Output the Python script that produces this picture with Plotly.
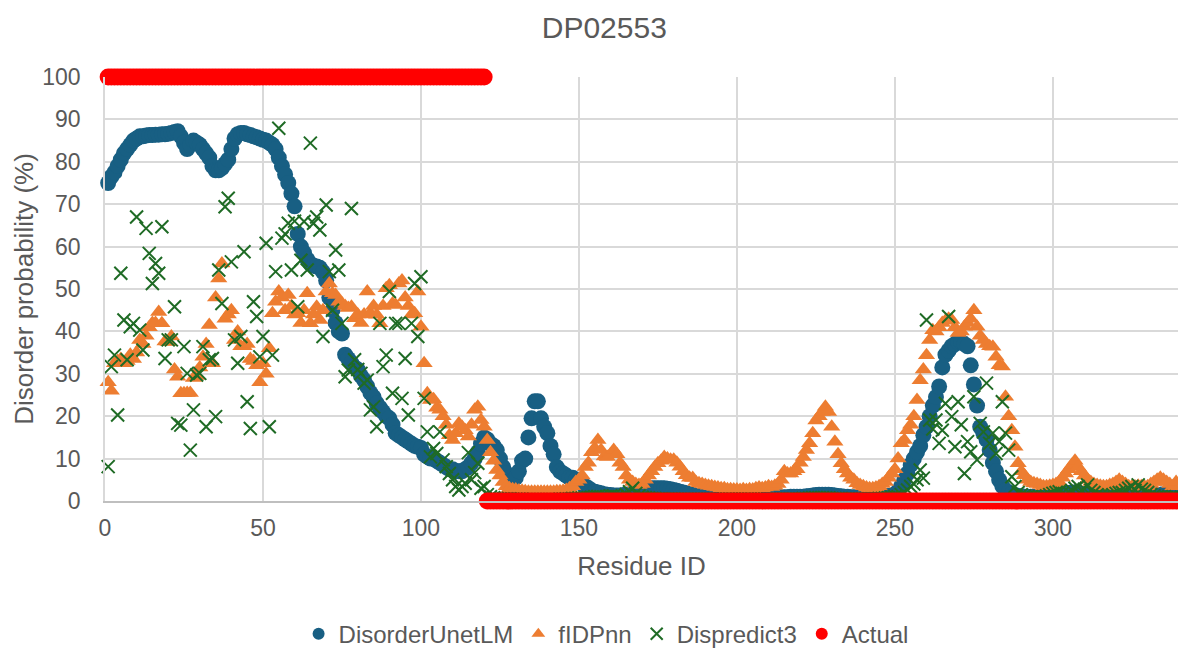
import plotly.graph_objects as go

# ---------------- data (per-residue) ----------------
disorder_unetlm = [
    75, 76.5, 77.5, 79, 80.5, 82, 83, 84, 85, 85.5,
    86, 86, 86.2, 86.3, 86.3, 86.4, 86.4, 86.5, 86.5, 86.6,
    86.8, 87, 87.2, 86, 84.5, 83, 84, 85, 84.5, 84,
    83, 82, 81, 79, 78, 78, 78.5, 79.5, 80.5, 83,
    85.5, 86.5, 86.8, 86.8, 86.5, 86.3, 86, 85.8, 85.5, 85.2,
    85, 84.5, 84, 83, 81, 79, 77, 75, 72.5, 69.5,
    63, 60, 58.5, 57, 56, 55.5, 55.3, 55, 54, 52,
    48, 45, 42, 40, 39.5, 34.5, 33.5, 32.5, 31.5, 31,
    29.5, 28.5, 27, 25.5, 24.5, 23, 22, 21, 20, 19.5,
    18, 16, 15.5, 15, 14.5, 14, 13.5, 13, 12.8, 12.5,
    11, 10.5, 10, 10, 9.5, 9, 8.5, 8, 7.5, 7.5,
    7, 7, 7, 7.5, 8, 9, 10, 11.5, 13.5, 15,
    14.5, 13.5, 13, 12, 10, 8, 6.5, 5.5, 5, 5.5,
    7, 9.5, 10, 15, 19.5, 23.5, 23.5, 19.5, 17.5, 16,
    13, 11, 8, 7, 6.5, 6, 5.5, 5.5, 5, 4.5,
    4, 3.5, 3, 2.5, 2.2, 2, 1.8, 1.6, 1.5, 1.4,
    1.3, 1.3, 1.3, 1.4, 1.5, 1.6, 1.8, 2, 2.2, 2.4,
    2.6, 2.8, 3, 3, 3, 3, 3, 2.9, 2.8, 2.6,
    2.4, 2.2, 2, 1.8, 1.6, 1.4, 1.3, 1.2, 1.1, 1,
    0.9, 0.9, 0.9, 0.8, 0.8, 0.8, 0.8, 0.8, 0.8, 0.8,
    0.8, 0.8, 0.8, 0.8, 0.8, 0.8, 0.8, 0.8, 0.9, 0.9,
    0.9, 0.9, 0.9, 0.9, 0.9, 0.9, 1, 1, 1, 1,
    1, 1.1, 1.2, 1.3, 1.4, 1.5, 1.5, 1.5, 1.5, 1.4,
    1.3, 1.2, 1.1, 1, 1, 0.9, 0.9, 0.9, 0.9, 0.9,
    0.9, 0.9, 1, 1, 1, 1, 1.1, 1.2, 1.3, 1.6,
    2.3, 3.5, 5, 6.5, 8.5, 10, 11.5, 13, 15.5, 17.5,
    20, 22.5, 24.5, 27, 31.5, 34.5, 35.5, 36.5, 37, 37.5,
    37.5, 37, 36.5, 32, 27.5, 22.5, 17.5, 16, 14.5, 12,
    9, 7, 5, 3.5, 2.5, 2, 1.6, 1.4, 1.2, 1.1,
    1, 1, 1, 1, 1, 1, 1, 1, 1, 1.1,
    1.2, 1.4, 1.6, 1.8, 1.9, 2, 2, 1.9, 1.7, 1.5,
    1.3, 1.2, 1.1, 1, 1, 1, 0.9, 0.9, 0.9, 0.9,
    0.9, 0.9, 0.9, 0.9, 0.9, 1, 1, 1, 1, 1.1,
    1.2, 1.3, 1.4, 1.5, 1.6, 1.6, 1.5, 1.4, 1.3, 1.2, 1.1, 1,
]

fidpnn = [
    28, 26, 32.5, 33, 33.5, 32.5, 33, 34.5, 33.5, 35,
    38, 37, 39, 41, 42, 42, 44.6, 41.9, 37.6, 37.5,
    38.8, 31, 29.3, 25.4, 25.4, 25.5, 25.5, 29, 29.5, 31.5,
    34, 37, 41.5, 32.5, 48, 52.5, 56, 43, 44, 45,
    38, 40, 36.5, 36.5, 37, 33.5, 33, 32, 28, 32.5,
    30, 36, 44.3, 47, 49.4, 48, 45, 48.6, 46, 44,
    44.3, 42, 45, 49, 41.9, 44, 45.8, 42.7, 45, 49.4,
    51.3, 49, 48.6, 47, 46.6, 46, 45.5, 45.8, 43.1, 44,
    42, 44, 49.4, 44.3, 46, 43.9, 41.9, 46, 50.2, 50.9,
    46.6, 46.2, 51.3, 52, 48, 46, 44, 44.3, 49.4, 41.1,
    32.5, 25.4, 23.8, 24, 22, 21.5, 20, 18, 15.5, 14.4,
    16, 18.3, 17.5, 16.7, 15.2, 18, 21.5, 22.2, 19.1, 17.5,
    14.4, 11.5, 9.5, 7.3, 6, 4.5, 3.5, 3, 2.8, 2.7,
    2.5, 2.4, 2.3, 2.2, 2.2, 2.2, 2.2, 2.2, 2.2, 2.2,
    2.2, 2.2, 2.3, 2.3, 2.4, 2.6, 3, 3.5, 4.5, 5,
    6, 8, 9, 11.5, 12.5, 14.4, 12, 10.5, 10.4, 11,
    12, 11, 9, 8, 6, 5, 4.5, 4, 3.8, 4,
    5, 6, 7, 8, 8.9, 9.5, 10.4, 10, 9.7, 9.7,
    9, 8.1, 7, 6.1, 5.5, 5.4, 4.5, 4.2, 4, 3.8,
    3.6, 3.5, 3.3, 3.2, 3, 3, 2.8, 2.8, 2.7, 2.7,
    2.6, 2.8, 2.6, 2.8, 2.7, 3, 3.2, 3, 3.2, 3.5,
    3.3, 3.6, 4, 5, 7, 6.5, 6.5, 7, 7.5, 9,
    10.4, 12, 13.6, 16, 19, 20, 21, 22.2, 21, 17.5,
    14, 11, 8.9, 7.5, 6.5, 5.5, 5, 4.2, 3.8, 3.5,
    3.2, 3, 3, 3.2, 3.5, 4, 4.5, 5.5, 6.5, 7.5,
    10, 13.6, 14.4, 16.7, 18, 20, 23.8, 28.5, 31, 34.4,
    38, 40.3, 40, 41, 42, 42.5, 43, 42.7, 41, 39.6,
    40, 41.1, 42, 43, 45, 41.1, 39, 38, 37, 36.5,
    36.4, 34, 32, 31.7, 24.6, 20, 16.7, 12.8, 8.9, 7,
    6.1, 5, 4.5, 4.2, 4, 3.8, 3.5, 3.5, 3.6, 3.8,
    4, 4.5, 5.5, 6.5, 7.5, 8.5, 9.5, 8, 7, 6,
    5, 4.5, 4, 3.8, 3.6, 3.5, 3.5, 3.8, 4, 4.5,
    5, 4.5, 4, 3.5, 3.4, 3.4, 3.6, 3.5, 3.4, 3.5,
    4, 4.5, 5, 5.5, 5, 4.5, 4, 3.5, 4.5, 5.5, 6, 5,
]

dispredict3 = [
    8.1, 31.7, 34.4, 20.3, 53.7, 42.7, 33.3, 41.1, 41.9, 67,
    40.3, 35.6, 64.3, 58.4, 51.3, 56, 53.7, 64.7, 33.6, 38,
    38, 45.8, 18.3, 17.9, 36.4, 30.1, 12, 21.5, 29.7, 30.1,
    36.4, 17.5, 33.3, 33.6, 19.9, 54.5, 46.6, 69.4, 71.4, 56.4,
    38, 32.5, 38.8, 58.8, 23.4, 17.1, 47, 43.5, 34, 38.8,
    60.8, 17.5, 34.4, 54.1, 87.9, 62, 63, 65.5, 54.5, 66,
    45.8, 56.8, 65.9, 54.5, 84.4, 65.5, 67, 63.9, 38.8, 69.8,
    54.1, 45, 59.2, 54.5, 41.9, 29.3, 30.9, 69, 33.3, 31,
    30.1, 27.8, 28.5, 21.5, 22.2, 17.5, 41.9, 31.7, 34.4, 49.4,
    25.4, 41.9, 41.9, 24.2, 33.6, 20.3, 41.9, 51.3, 38.8, 52.9,
    24.2, 16.3, 10.4, 12.4, 11.2, 16.3, 9.7, 8.1, 6.5, 5,
    3.4, 2.6, 3.4, 4.2, 11.4, 5, 6.7, 8.9, 3, 3.4,
    1.5, 1, 0.8, 0.6, 0.5, 0.5, 0.5, 0.5, 0.4, 0.4,
    0.4, 0.4, 0.3, 0.3, 0.3, 0.3, 0.3, 0.3, 0.3, 0.3,
    0.3, 0.3, 0.3, 0.4, 0.4, 0.5, 0.5, 0.6, 0.6, 0.7,
    0.7, 0.8, 0.8, 0.9, 1, 1.1, 1, 0.9, 1, 1.2,
    1.2, 1, 0.9, 1, 1.5, 2.2, 3, 1.8, 1.2, 0.9,
    0.8, 0.7, 0.6, 0.6, 0.5, 0.5, 0.5, 0.5, 0.5, 0.5,
    0.4, 0.4, 0.4, 0.4, 0.4, 0.4, 0.4, 0.4, 0.4, 0.4,
    0.4, 0.4, 0.4, 0.4, 0.4, 0.4, 0.4, 0.4, 0.4, 0.4,
    0.4, 0.4, 0.4, 0.4, 0.4, 0.4, 0.4, 0.4, 0.4, 0.4,
    0.4, 0.4, 0.4, 0.4, 0.4, 0.5, 0.5, 0.5, 0.5, 0.5,
    0.6, 0.6, 0.7, 0.8, 0.8, 0.8, 0.8, 0.7, 0.7, 0.6,
    0.6, 0.6, 0.6, 0.5, 0.5, 0.5, 0.5, 0.5, 0.5, 0.5,
    0.5, 0.5, 0.5, 0.5, 0.6, 0.6, 0.7, 0.8, 0.9, 1,
    1, 1.5, 2, 2.6, 3.4, 4, 5, 7.3, 5.4, 42.7,
    19.1, 17, 19.1, 13.6, 16.7, 23, 43.5, 19.9, 12.8, 23.4,
    18, 6.5, 14, 11.6, 24.6, 9.7, 18.3, 16.3, 27.8, 13.6,
    16, 11.2, 14, 23.4, 16, 12, 5.7, 3.4, 2, 1.5,
    1.2, 1, 0.9, 0.8, 0.8, 0.9, 1, 1.2, 1.5, 1.8,
    2, 2.2, 1.8, 1.5, 2, 2.5, 3, 3.4, 2.5, 2.8,
    3.8, 2.5, 2, 1.5, 1.2, 1, 1, 1.2, 1.5, 1.8,
    2, 2, 2.5, 3, 3.4, 2.5, 3.8, 2.8, 2.5, 2,
    1.5, 1.2, 1, 0.9, 0.8, 0.8, 0.9, 1, 1, 1.1, 1, 0.9,
]

# Actual annotation: residues 1-120 disordered (100), 121-342 ordered (0)
actual = [100] * 120 + [0] * 222

x_ticks = [0, 50, 100, 150, 200, 250, 300]
y_ticks = [0, 10, 20, 30, 40, 50, 60, 70, 80, 90, 100]

# ---------------- figure ----------------
TXT = "#595959"
FONT = "Liberation Sans, Arial, sans-serif"

def residues(vals):
    return list(range(1, len(vals) + 1))

fig = go.Figure()
fig.add_trace(go.Scatter(
    x=residues(disorder_unetlm), y=disorder_unetlm, mode="markers", name="DisorderUnetLM",
    marker=dict(symbol="circle", size=16, color="#185f83"), cliponaxis=False))
fig.add_trace(go.Scatter(
    x=residues(fidpnn), y=fidpnn, mode="markers", name="fIDPnn",
    marker=dict(symbol="triangle-up", size=15, color="#ed7d31"), cliponaxis=False))
fig.add_trace(go.Scatter(
    x=residues(dispredict3), y=dispredict3, mode="markers", name="Dispredict3",
    marker=dict(symbol="x-thin", size=13, color="#1f6b25",
                line=dict(width=2, color="#1f6b25")), cliponaxis=False))
fig.add_trace(go.Scatter(
    x=residues(actual), y=actual, mode="markers", name="Actual",
    marker=dict(symbol="circle", size=17, color="#ff0000"), cliponaxis=False))

fig.update_layout(
    width=1178, height=648,
    margin=dict(l=105, r=0, t=77, b=147, autoexpand=False),
    paper_bgcolor="white", plot_bgcolor="white",
    font=dict(family=FONT, color=TXT, size=22),
    title=dict(text="DP02553", x=0.513, xanchor="center", y=0.957, yanchor="middle",
               font=dict(size=30, color=TXT, family=FONT)),
    showlegend=True,
    legend=dict(orientation="h", x=0.467, xanchor="center", y=-0.314, yanchor="middle",
                font=dict(size=24, color=TXT, family=FONT), itemsizing="constant",
                traceorder="normal", itemwidth=30, tracegroupgap=0),
)
fig.update_xaxes(
    range=[0, 339.6], tickvals=x_ticks, ticktext=[str(v) for v in x_ticks],
    showgrid=True, gridcolor="#d9d9d9", gridwidth=1.5,
    showline=True, linecolor="#bfbfbf", linewidth=1.5, automargin=False,
    zeroline=False, ticks="", tickfont=dict(size=23, color=TXT), ticklabelstandoff=6,
    title=dict(text="Residue ID", font=dict(size=26, color=TXT), standoff=16),
)
fig.update_yaxes(
    range=[0, 100], tickvals=y_ticks, ticktext=[str(v) for v in y_ticks],
    showgrid=True, gridcolor="#d9d9d9", gridwidth=1.5,
    showline=True, linecolor="#d9d9d9", linewidth=1.5, automargin=False,
    zeroline=False, ticks="", tickfont=dict(size=23, color=TXT), ticklabelstandoff=18,
    title=dict(text="Disorder probability (%)", font=dict(size=26, color=TXT), standoff=1),
)

fig.write_html("out.html")
